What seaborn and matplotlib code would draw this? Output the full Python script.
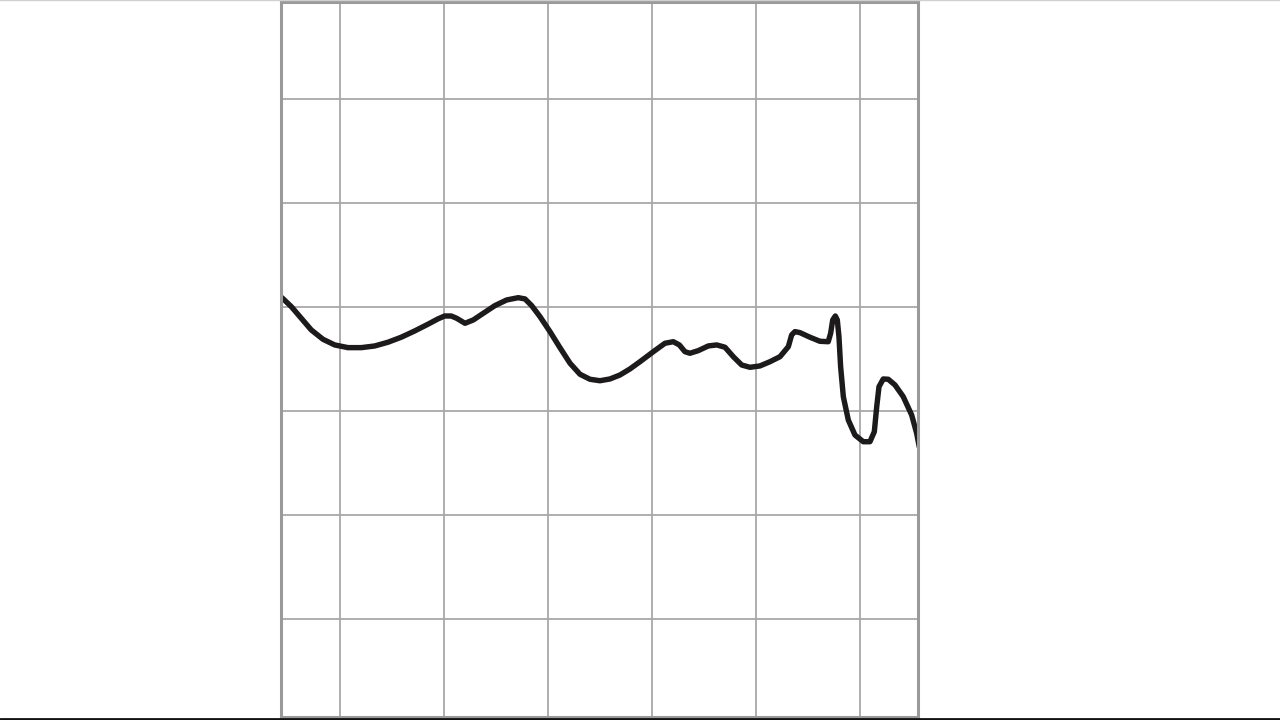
import pandas as pd
import matplotlib
matplotlib.use("Agg")
import matplotlib.pyplot as plt
from matplotlib.lines import Line2D
import seaborn as sns

# Curve: x in grid-division units (grid lines at 1..6),
# y in dB-like units (one grid division = 10).
freq_pos = [0.442, 0.532, 0.628, 0.724, 0.837, 0.949, 1.077, 1.205, 1.334, 1.462,
            1.589, 1.718, 1.846, 1.942, 2.007, 2.070, 2.122, 2.202, 2.282, 2.378,
            2.490, 2.603, 2.714, 2.779, 2.843, 2.923, 3.019, 3.115, 3.212, 3.308,
            3.404, 3.500, 3.596, 3.692, 3.788, 3.885, 4.013, 4.125, 4.205, 4.263,
            4.317, 4.365, 4.445, 4.541, 4.622, 4.702, 4.782, 4.863, 4.942, 5.038,
            5.135, 5.231, 5.311, 5.343, 5.375, 5.423, 5.519, 5.615, 5.695, 5.718,
            5.738, 5.763, 5.782, 5.798, 5.814, 5.840, 5.888, 5.952, 6.032, 6.096,
            6.138, 6.161, 6.183, 6.224, 6.272, 6.337, 6.416, 6.497, 6.545, 6.570]
level = [10.89, 10.03, 8.91, 7.79, 6.89, 6.35, 6.09, 6.09, 6.25, 6.61,
         7.09, 7.69, 8.34, 8.85, 9.13, 9.13, 8.91, 8.43, 8.75, 9.39,
         10.13, 10.67, 10.89, 10.77, 10.13, 9.07, 7.63, 6.09, 4.59, 3.53,
         3.05, 2.91, 3.08, 3.46, 4.04, 4.74, 5.70, 6.51, 6.66, 6.35,
         5.70, 5.55, 5.80, 6.25, 6.35, 6.13, 5.22, 4.42, 4.20, 4.33,
         4.74, 5.22, 6.18, 7.31, 7.63, 7.53, 7.09, 6.70, 6.66, 7.47,
         8.75, 9.13, 8.75, 7.14, 4.26, 1.38, -0.87, -2.31, -2.95, -2.95,
         -1.99, 0.41, 2.34, 3.08, 3.05, 2.50, 1.38, -0.38, -2.14, -3.43]

x_grid = [1, 2, 3, 4, 5, 6]
y_grid = [-20, -10, 0, 10, 20, 30]

sns.set_theme(style="whitegrid")

df = pd.DataFrame({"x": freq_pos, "y": level})

fig = plt.figure(figsize=(12.8, 7.2), dpi=100)
ax = fig.add_axes([281 / 1280, 3 / 720, 637 / 1280, 715 / 720])

sns.lineplot(data=df, x="x", y="y", sort=False, color="#1c1a1b",
             linewidth=3.9, ax=ax, solid_joinstyle="round", solid_capstyle="round")

ax.set_xlim(0.433, 6.558)
ax.set_ylim(-29.4, 39.3)
ax.set_xticks(x_grid)
ax.set_yticks(y_grid)
ax.set_xticklabels([])
ax.set_yticklabels([])
ax.tick_params(length=0)
ax.set_xlabel("")
ax.set_ylabel("")
ax.grid(True, color="#a8a8a8", linewidth=1.3)
ax.set_facecolor("white")
for sp in ax.spines.values():
    sp.set_visible(True)
    sp.set_color("#9a9a9a")
    sp.set_linewidth(2.2)

# thin frame remnants at the image edges
fig.add_artist(Line2D([0, 1], [0.0015, 0.0015], color="#111111", linewidth=2.0))
fig.add_artist(Line2D([0, 1], [0.9995, 0.9995], color="#d0d0d0", linewidth=1.0))

fig.savefig("out.png", dpi=100, facecolor="white")
